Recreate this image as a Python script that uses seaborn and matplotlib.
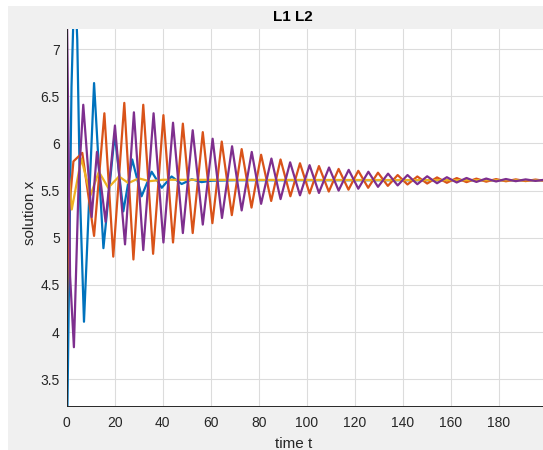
import matplotlib
matplotlib.use("Agg")
import matplotlib.pyplot as plt
from matplotlib.patches import Rectangle
import seaborn as sns

# ---- data (extrema of each curve) ----
blue_t = [0, 1.0, 2.0, 3.3, 4.4, 5.6, 7.2, 11.4, 15.3, 20.0, 23.6, 27.3, 31.2, 35.4,
          39.6, 43.7, 47.9, 52.1, 56.2, 60.4, 70.0, 200.0]
blue_x = [2.6, 4.6, 6.6, 7.8, 7.1, 5.4, 4.11, 6.64, 4.89, 6.10, 5.28, 5.83, 5.44, 5.70,
          5.53, 5.65, 5.57, 5.62, 5.59, 5.605, 5.61, 5.61]

orange_t = [0, 0.7, 2.8, 6.5, 11.4, 15.7, 19.4, 24.0, 27.8, 31.9, 36.0, 40.3, 44.3, 48.4,
            52.5, 56.7, 60.7, 64.6, 68.8, 72.9, 77.0, 81.0, 85.2, 89.1, 93.2, 97.2,
            101.2, 105.1, 109.2, 113.3, 117.4, 121.5, 125.6, 129.7, 133.8, 137.9,
            142.0, 146.1, 150.2, 154.3, 158.4, 162.5, 166.6, 170.7, 174.8, 178.9,
            183.0, 187.1, 191.2, 195.3, 199.4]
orange_x = [4.0, 5.2, 5.81, 5.9, 5.02, 6.32, 4.80, 6.43, 4.77, 6.41, 4.83, 6.30, 4.95, 6.21,
            5.05, 6.12, 5.155, 6.02, 5.24, 5.94, 5.32, 5.88, 5.39, 5.83, 5.44, 5.79,
            5.47, 5.76, 5.49, 5.73, 5.51, 5.71, 5.53, 5.69, 5.55, 5.665,
            5.565, 5.65, 5.575, 5.64, 5.583, 5.633, 5.59, 5.627, 5.595, 5.622,
            5.599, 5.619, 5.601, 5.617, 5.603]

yellow_t = [0, 2.1, 6.1, 9.9, 13.4, 17.3, 21.8, 25.7, 30.0, 34.5, 40.0, 200.0]
yellow_x = [5.95, 5.30, 5.84, 5.45, 5.70, 5.53, 5.65, 5.58, 5.63, 5.60, 5.615, 5.61]

purple_t = [0, 1.4, 3.0, 5.0, 6.9, 10.4, 12.6, 16.2, 20.1, 24.3, 28.0, 31.9, 36.2, 40.3,
            44.3, 48.4, 52.5, 56.7, 60.8, 64.7, 68.9, 72.9, 77.1, 81.0, 85.3, 89.1,
            93.1, 97.2, 101.2, 105.1, 109.3, 113.3, 117.5, 121.5, 125.7, 129.7,
            133.9, 137.9, 142.0, 146.1, 150.2, 154.3, 158.4, 162.5, 166.6, 170.7,
            174.8, 178.9, 183.0, 187.1, 191.2, 195.3, 199.4]
purple_x = [7.6, 4.6, 3.84, 5.6, 6.41, 5.22, 5.91, 5.17, 6.19, 4.93, 6.33, 4.87, 6.32, 4.95,
            6.22, 5.05, 6.14, 5.14, 6.05, 5.21, 5.97, 5.29, 5.91, 5.36, 5.84, 5.41,
            5.80, 5.45, 5.77, 5.475, 5.745, 5.50, 5.72, 5.52, 5.70, 5.54,
            5.68, 5.555, 5.665, 5.568, 5.652, 5.578, 5.642, 5.586, 5.634, 5.592,
            5.628, 5.597, 5.623, 5.600, 5.619, 5.603, 5.616]

x_ticks = [0, 20, 40, 60, 80, 100, 120, 140, 160, 180]
y_ticks = [3.5, 4, 4.5, 5, 5.5, 6, 6.5, 7]
y_tick_labels = ["3.5", "4", "4.5", "5", "5.5", "6", "6.5", "7"]

series = [
    (blue_t, blue_x, "#0072BD"),
    (orange_t, orange_x, "#D95319"),
    (yellow_t, yellow_x, "#EDB120"),
    (purple_t, purple_x, "#7E2F8E"),
]

sns.set_style("whitegrid")
plt.rcParams["font.family"] = ["Liberation Sans", "DejaVu Sans"]

W, H = 543, 450
fig = plt.figure(figsize=(W / 100, H / 100), dpi=100)
fig.patch.set_facecolor("white")
fig.add_artist(Rectangle((8 / W, 0), 1 - 8 / W, 1 - 6 / H, transform=fig.transFigure,
                         facecolor="#f0f0f0", edgecolor="none", zorder=0))

left, right, bottom, top = 66.7, 546.7, 405.7, 29.3
ax = fig.add_axes([left / W, (H - bottom) / H, (right - left) / W, (bottom - top) / H])
ax.set_facecolor("white")

for t, x, c in series:
    sns.lineplot(x=t, y=x, ax=ax, color=c, linewidth=1.6, estimator=None, sort=False,
                 solid_joinstyle="round", solid_capstyle="round")

ax.set_xlim(0, 200)
ax.set_ylim(3.22, 7.21)
ax.set_xticks(x_ticks)
ax.set_xticklabels([str(v) for v in x_ticks])
ax.set_yticks(y_ticks)
ax.set_yticklabels(y_tick_labels)

ax.grid(True, color="#dcdcdc", linewidth=0.8)
ax.set_axisbelow(True)
for side in ["top", "right"]:
    ax.spines[side].set_visible(False)
for side in ["left", "bottom"]:
    ax.spines[side].set_color("#262626")
    ax.spines[side].set_linewidth(0.7)

ax.tick_params(axis="both", direction="in", length=3.5, width=0.7, color="#262626",
               labelsize=10, labelcolor="#262626")
ax.tick_params(axis="x", pad=7.5)
ax.tick_params(axis="y", pad=5)

fig.text(293 / W, 1 - 20.7 / H, "L1 L2", ha="center", va="baseline",
         fontsize=11, fontweight="bold", color="#000000")
fig.text(294 / W, 2.5 / H, "time t", ha="center", va="baseline", fontsize=11,
         color="#262626")
fig.text(30 / W, 1 - 213 / H, "solution x", ha="center", va="center", rotation=90,
         fontsize=11, color="#262626")

fig.savefig("out.png", dpi=100)
